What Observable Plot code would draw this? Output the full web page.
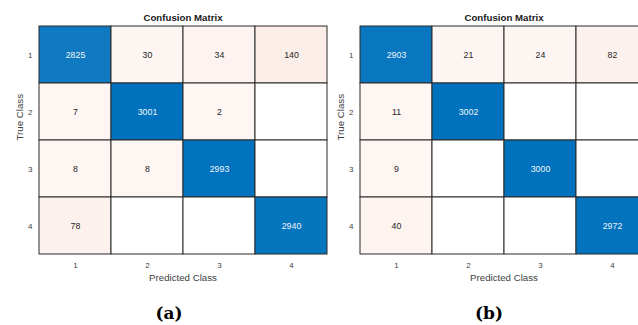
<!DOCTYPE html>
<html>
<head>
<meta charset="utf-8">
<script src="https://cdn.jsdelivr.net/npm/d3@7"></script>
<script src="https://cdn.jsdelivr.net/npm/@observablehq/plot@0.6"></script>
<style>
  html, body { margin: 0; padding: 0; background: #fff; }
  body { width: 638px; height: 325px; overflow: hidden; position: relative; }
  .panel { position: absolute; top: 0; width: 330px; height: 290px; }
  .panel svg { max-width: none !important; display: block; }
  .caption {
    position: absolute; top: 302px; width: 60px; margin-left: -30px;
    text-align: center; font-family: "DejaVu Serif", "Liberation Serif", serif;
    font-weight: bold; font-size: 17px; line-height: 22px; color: #000;
  }
</style>
</head>
<body>
<script>
// Class labels shared by both matrices
const classes = [1, 2, 3, 4];

// Rows = true class, columns = predicted class
const matrixA = [
  [2825, 30, 34, 140],
  [7, 3001, 2, 0],
  [8, 8, 2993, 0],
  [78, 0, 0, 2940]
];
const matrixB = [
  [2903, 21, 24, 82],
  [11, 3002, 0, 0],
  [9, 0, 3000, 0],
  [40, 0, 0, 2972]
];

const titles = ["Confusion Matrix", "Confusion Matrix"];
const captions = ["(a)", "(b)"];

const diagInterp = d3.interpolateRgb("#ffffff", "#0072BD");
const offInterp = d3.interpolateRgb("#ffffff", "#D95319");

function toCells(matrix) {
  const cells = [];
  matrix.forEach((row, i) => row.forEach((count, j) => {
    cells.push({actual: classes[i], pred: classes[j], count, diag: i === j});
  }));
  return cells;
}

function cellColor(d, max) {
  if (d.count === 0) return "#ffffff";
  if (d.diag) return diagInterp(d.count / max);
  return offInterp(Math.min(1, 0.05 + 1.1 * d.count / max));
}

function confusionChart(matrix, title) {
  const cells = toCells(matrix);
  const max = d3.max(cells, d => d.count);
  return Plot.plot({
    width: 330,
    height: 290,
    marginTop: 25.5,
    marginBottom: 35.5,
    marginLeft: 37,
    marginRight: 2,
    x: {type: "band", domain: classes, padding: 0, label: null},
    y: {type: "band", domain: classes, padding: 0, label: null},
    style: {
      fontFamily: "'Liberation Sans', Arial, Helvetica, sans-serif",
      fontSize: "8px",
      color: "#404040",
      background: "transparent",
      overflow: "visible"
    },
    marks: [
      Plot.cell(cells, {
        x: "pred", y: "actual",
        fill: d => cellColor(d, max),
        stroke: "#2b2b2b", strokeWidth: 1
      }),
      Plot.text(cells.filter(d => d.count > 0), {
        x: "pred", y: "actual",
        text: d => String(d.count),
        fill: d => d.diag ? "#eef4fa" : "#262626",
        fontSize: 8.8
      }),
      Plot.axisX({tickSize: 0, tickPadding: 7, label: null, fill: "#404040"}),
      Plot.axisY({tickSize: 0, tickPadding: 5, label: null, fill: "#404040"}),
      Plot.text([title], {
        text: d => d, frameAnchor: "top", lineAnchor: "middle", dy: -8.2,
        fontWeight: "bold", fontSize: 9.7, fill: "#1a1a1a"
      }),
      Plot.text(["Predicted Class"], {
        text: d => d, frameAnchor: "bottom", lineAnchor: "middle", dy: 22.5,
        fontSize: 9.7, fill: "#404040"
      }),
      Plot.text(["True Class"], {
        text: d => d, frameAnchor: "left", lineAnchor: "middle", rotate: -90, dx: -18,
        fontSize: 9.7, fill: "#404040"
      })
    ]
  });
}

const panelLeft = [0, 321];
const captionX = [169, 489];
[matrixA, matrixB].forEach((m, k) => {
  const wrap = document.createElement("div");
  wrap.className = "panel";
  wrap.style.left = panelLeft[k] + "px";
  wrap.appendChild(confusionChart(m, titles[k]));
  document.body.appendChild(wrap);

  const cap = document.createElement("div");
  cap.className = "caption";
  cap.style.left = captionX[k] + "px";
  cap.textContent = captions[k];
  document.body.appendChild(cap);
});
</script>
</body>
</html>
